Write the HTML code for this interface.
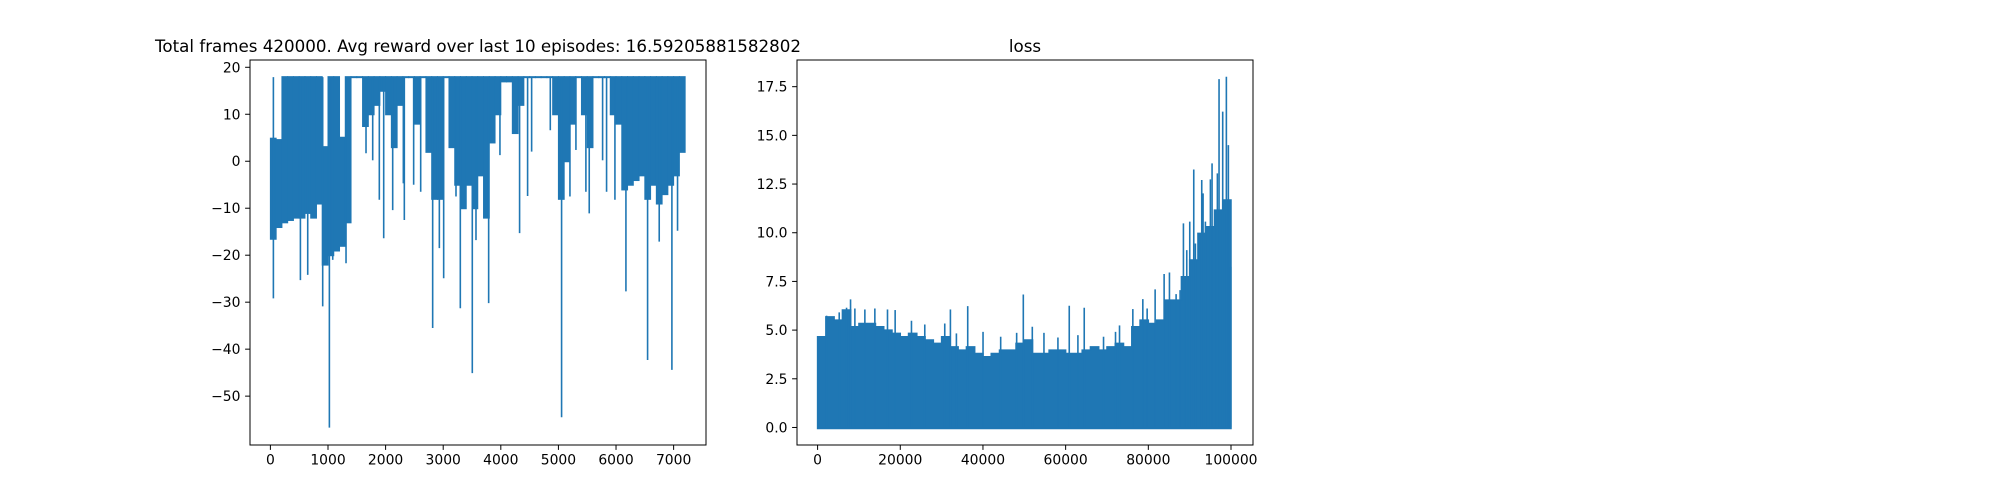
<!DOCTYPE html>
<html><head><meta charset="utf-8"><style>
html,body{margin:0;padding:0;background:#fff;}
svg{display:block;font-family:"DejaVu Sans","Liberation Sans",sans-serif;}
</style></head><body>
<svg id="fig" width="2000" height="500" viewBox="0 0 2000 500" xmlns="http://www.w3.org/2000/svg">
<rect x="0" y="0" width="2000" height="500" fill="#fff"/>
<text x="478" y="52" font-size="16.7" text-anchor="middle" fill="#000">Total frames 420000. Avg reward over last 10 episodes: 16.59205881582802</text>
<text x="1025" y="52" font-size="16.7" text-anchor="middle" fill="#000">loss</text>
<g id="g1"></g>
<g id="g2"></g>
</svg>
<script>
// ---- reward chart data ----
const rewardBinSize = 100;
const rewardBinHigh = [4.8,4.5,17.9,17.9,17.9,17.9,17.9,17.9,17.9,3,17.9,17.9,5,17.9,17.9,17.9,17.9,17.9,17.9,17.9,17.9,17.9,17.9,17.9,17.9,17.9,17.9,17.9,17.9,17.9,17.9,17.9,17.9,17.9,17.9,17.9,17.9,17.9,17.9,17.9,17.9,17.9,17.9,17.9,17.9,17.9,17.9,17.9,17.9,17.9,17.9,17.9,17.9,17.9,17.9,17.9,17.9,17.9,17.9,17.9,17.9,17.9,17.9,17.9,17.9,17.9,17.9,17.9,17.9,17.9,17.9,17.9];
const rewardBinLow = [-16.5,-14,-13,-12.5,-12,-12,-11,-12,-9,-22,-20,-19,-18,-13,17.9,17.9,7.5,10,12,15,10,3,12,17.9,17.9,8,17.9,2,-8,-8,17.9,3,-5,-10,-5,-10,-3,-12,4,10,17,17,6,12,17.9,17.9,17.9,17.9,17.9,10,-8,0,8,17.9,10,3,17.9,17.9,17.9,10,8,-6,-5,-4,-3,-8,-5,-9,-7,-5,-3,2];
const rewardSpikeEpisodes = [52,521,648,908,1024,1082,1313,1660,1776,1891,1967,2123,2325,2308,2487,2609,2817,2933,3008,3222,3297,3505,3569,3789,3985,4326,4367,4465,4535,4859,5055,5200,5304,5477,5535,5767,5836,5981,6172,6548,6750,6970,7068];
const rewardSpikeValues = [-29.2,-25.3,-24.2,-30.9,-56.7,-21,-21.7,1.7,0.2,-8.2,-16.4,-10.4,-12.5,-4.7,-5,-6.5,-35.5,-18.5,-24.9,-7.5,-31.3,-45.1,-16.8,-30.2,1.3,-15.3,13,-7.4,2.05,6.6,-54.5,-7.5,2.4,-6.5,-11.1,0.2,-6.5,-8.2,-27.7,-42.3,-17.1,-44.4,-14.8];
const rewardXTicks = [0,1000,2000,3000,4000,5000,6000,7000];
const rewardYTicks = [-50,-40,-30,-20,-10,0,10,20];
const rewardEnd = 7200;
// ---- loss chart data ----
const lossBinSize = 2000;
const lossBinTop = [4.66,5.68,5.51,6.03,5.17,5.34,5.34,5.17,5.0,4.83,4.66,4.83,4.66,4.49,4.32,4.66,4.14,3.97,4.14,3.8,3.63,3.8,3.97,3.97,4.32,4.49,3.8,3.8,3.97,3.97,3.8,3.8,3.97,4.14,3.97,4.14,4.32,4.14,5.17,5.51,5.34,5.51,6.54,6.54,7.74,8.6,9.97,10.31,11.16,11.68];
const lossSpikeSteps = [2174,5234,7005,7971,9018,11434,13849,16909,18761,22707,25927,30759,32127,33577,36314,40018,44286,48151,49761,51935,54754,58135,60873,62967,64497,69167,72066,73032,76253,78669,79716,81648,83822,85110,86721,87687,88492,89298,90022,90989,91391,92921,93243,93807,95014,95417,96383,96705,97108,97993,98396,98879,99362,99684,99950];
const lossSpikeValues = [5.74,5.91,6.15,6.58,6.11,6.06,6.11,6.06,6.03,5.48,5.29,5.34,6.06,4.83,6.23,4.91,4.66,4.86,6.83,5.17,4.86,4.62,6.25,4.74,6.15,4.66,4.91,5.24,6.08,6.59,6.11,7.09,7.88,7.96,6.85,7.05,10.48,9.11,10.57,13.25,9.45,12.71,12.02,10.57,12.74,13.56,10.57,13.05,17.89,16.22,10.99,18.01,14.5,11.68,8.25];
const lossXTicks = [0,20000,40000,60000,80000,100000];
const lossYTicks = [0,2.5,5,7.5,10,12.5,15,17.5];
const lossEnd = 100000;

const NS = "http://www.w3.org/2000/svg";
const C = "#1f77b4";
function mk(parent, tag, attrs){
  const e = document.createElementNS(NS, tag);
  for (const k in attrs) e.setAttribute(k, attrs[k]);
  parent.appendChild(e);
  return e;
}
function lin(d0,d1,r0,r1){ return v => r0 + (v-d0)/(d1-d0)*(r1-r0); }

function axes(g, L, R, T, B, xs, ys, xt, yt, fmtY, prefix){
  for (const v of xt){
    const x = xs(v);
    const t = mk(g,'line',{x1:x,x2:x,y1:B,y2:B+4.9,stroke:'#000','stroke-width':1});
    
    
    const l = mk(g,'text',{x:x,y:B+19.5,'font-size':13.9,'text-anchor':'middle',fill:'#000'});
    
    
    l.textContent = String(v);
  }
  for (const v of yt){
    const y = ys(v);
    const t = mk(g,'line',{x1:L-4.9,x2:L,y1:y,y2:y,stroke:'#000','stroke-width':1});
    
    
    const l = mk(g,'text',{x:L-9.5,y:y+5,'font-size':13.9,'text-anchor':'end',fill:'#000'});
    
    
    l.textContent = fmtY(v);
  }
  const f = mk(g,'rect',{x:L,y:T,width:R-L,height:B-T,fill:'none',stroke:'#000','stroke-width':1});
  
  
}

// reward chart
(function(){
  const g = document.getElementById('g1');
  const L=250,R=706,T=60,B=445;
  const xs = lin(-354,7562,L,R), ys = lin(-60.4,21.55,B,T);
  const marks = mk(g,'g',{});
  
  
  for (let i=0;i<rewardBinHigh.length;i++){
    const s = i*rewardBinSize, e = Math.min((i+1)*rewardBinSize, rewardEnd);
    const x0 = xs(s)-0.5, x1 = xs(e)+0.5;
    const hi = Math.max(rewardBinHigh[i], rewardBinLow[i]), lo = Math.min(rewardBinHigh[i], rewardBinLow[i]);
    const r = mk(marks,'rect',{x:x0,y:ys(hi)-1,width:x1-x0,height:Math.max(2,ys(lo)-ys(hi)+2),fill:C});
    
    
  }
  for (let i=0;i<rewardSpikeEpisodes.length;i++){
    const x = xs(rewardSpikeEpisodes[i]);
    const ln = mk(marks,'line',{x1:x,x2:x,y1:ys(17.9),y2:ys(rewardSpikeValues[i]),stroke:C,'stroke-width':1.6});
    
    
  }
  axes(g,L,R,T,B,xs,ys,rewardXTicks,rewardYTicks,v=>String(v).replace('-','\u2212'),'reward');
})();

// loss chart
(function(){
  const g = document.getElementById('g2');
  const L=797,R=1253,T=60,B=445;
  const xs = lin(-4981,105320,L,R), ys = lin(-0.9,18.87,B,T);
  const marks = mk(g,'g',{});
  
  
  let d = 'M'+xs(0)+','+(ys(0)+1);
  for (let i=0;i<lossBinTop.length;i++){
    const s=i*lossBinSize, e=Math.min((i+1)*lossBinSize, lossEnd);
    d += 'L'+xs(s)+','+ys(lossBinTop[i])+'L'+xs(e)+','+ys(lossBinTop[i]);
  }
  d += 'L'+xs(lossEnd)+','+(ys(0)+1)+'Z';
  const p = mk(marks,'path',{d:d,fill:C,stroke:C,'stroke-width':1.5});
  
  
  for (let i=0;i<lossSpikeSteps.length;i++){
    const x = xs(lossSpikeSteps[i]);
    const ln = mk(marks,'line',{x1:x,x2:x,y1:ys(0),y2:ys(lossSpikeValues[i]),stroke:C,'stroke-width':1.6});
    
    
  }
  axes(g,L,R,T,B,xs,ys,lossXTicks,lossYTicks,v=>v.toFixed(1),'loss');
})();
</script>
</body></html>
